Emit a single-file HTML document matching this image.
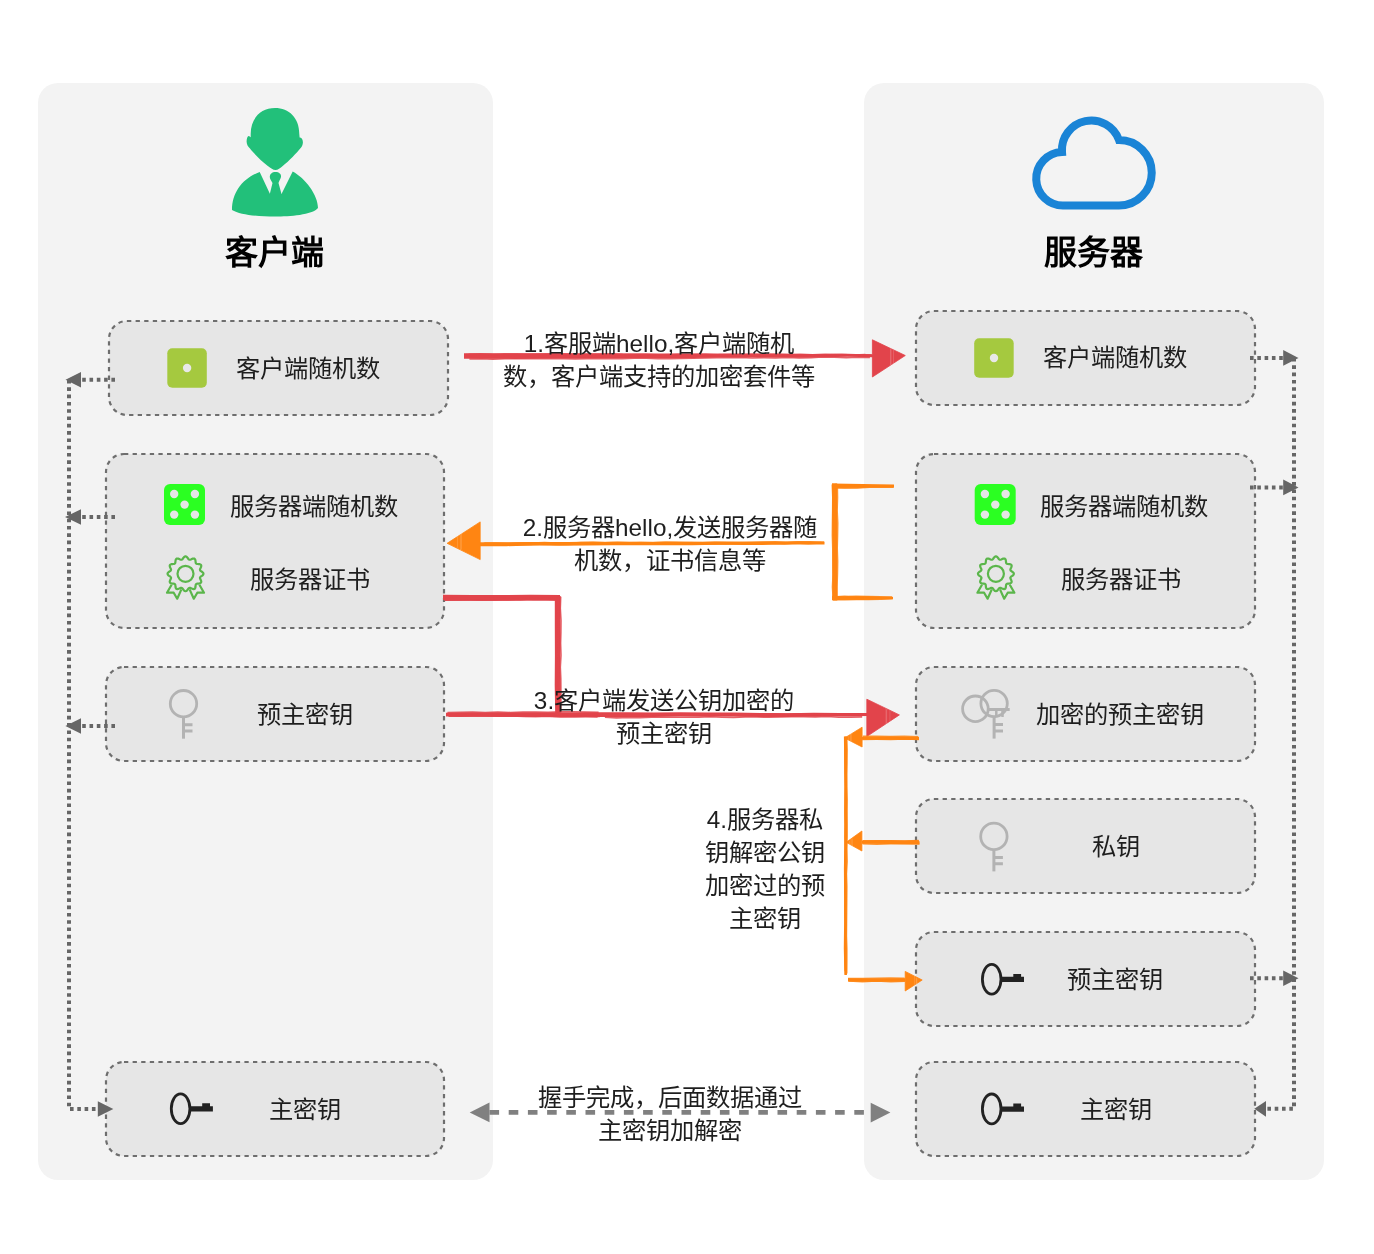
<!DOCTYPE html>
<html lang="zh-CN"><head><meta charset="utf-8"><title>TLS</title>
<style>
html,body{margin:0;padding:0;background:#fff;}
body{width:1374px;height:1254px;position:relative;overflow:hidden;font-family:"Liberation Sans",sans-serif;color:#1e1e1e;}
svg.main{position:absolute;left:0;top:0;}
.t{position:absolute;will-change:transform;white-space:nowrap;font-size:24.3px;line-height:33px;transform:translateX(-50%);text-align:center;}
.h{position:absolute;will-change:transform;white-space:nowrap;font-size:33px;line-height:40px;font-weight:bold;transform:translateX(-50%);color:#000;}
</style></head><body>
<svg class="main" width="1374" height="1254" viewBox="0 0 1374 1254">


<!-- panels -->
<rect x="38" y="83" width="455" height="1097" rx="20" fill="#f3f3f3"/>
<rect x="864" y="83" width="460" height="1097" rx="20" fill="#f3f3f3"/>

<!-- person -->
<g fill="#22c07a">
 <path d="M250.7 134 C250.7 118 261 108.1 275 108.1 C289 108.1 299.3 118 299.3 134 L299.6 137.5 C301.5 137 303 139.5 302.9 142.5 C302.8 145 301.8 147 299.8 149 C297 152.5 289 161 283 165.8 C280 168.5 278 170 275.5 170 C273 170 271 168.5 267.5 165.8 C261.5 161 253 152.5 250 148.5 C248 146.5 246.6 144.5 246.6 141.5 C246.6 138.5 247.5 136 248.6 135.9 C249.4 135.9 250.2 136.8 250.7 137.3 Z"/>
 <path d="M259.7 172 L270 194 L281.5 194 L292.7 171.5 C305 178 318 195 318 208 C312 215 290 216.5 275 216.5 C258 216.5 240 215 232 210 C232 192 243 178 259.7 172 Z"/>
 <path d="M275.5 172 C279 172 281.5 174 281 177 C280.5 179 279 181 278.5 183 L281.5 194 L269.8 194 L272.5 183 C271.5 181 269.8 179 269.8 177 C269.8 174 272 172 275.5 172 Z"/>
</g>
<!-- cloud -->
<path transform="translate(1,0)" d="M1063 205.5 A26.5 26.5 0 0 1 1061 152 A29.4 29.4 0 0 1 1118 140 A32.5 32.5 0 1 1 1118 205.5 Z" fill="none" stroke="#1a84d6" stroke-width="8"/>

<!-- boxes -->
<g fill="#e6e6e6" stroke="#6e6e6e" stroke-width="2.2" stroke-dasharray="4.3 4.3">
 <rect x="109" y="321" width="339" height="94" rx="18"/>
 <rect x="106" y="454" width="338" height="174" rx="18"/>
 <rect x="106" y="667" width="338" height="94" rx="18"/>
 <rect x="106" y="1062" width="338" height="94" rx="18"/>
 <rect x="916" y="311" width="339" height="94" rx="18"/>
 <rect x="916" y="454" width="339" height="174" rx="18"/>
 <rect x="916" y="667" width="339" height="94" rx="18"/>
 <rect x="916" y="799" width="339" height="94" rx="18"/>
 <rect x="916" y="932" width="339" height="94" rx="18"/>
 <rect x="916" y="1062" width="339" height="94" rx="18"/>
</g>

<!-- icons -->
<g transform="translate(167.3 348.2)"><rect x="0" y="0" width="39.5" height="39.5" rx="5" fill="#a5c93f"/><circle cx="19.8" cy="19.8" r="4.2" fill="#e8e8e8"/></g>
<g transform="translate(974.2 338.2)"><rect x="0" y="0" width="39.5" height="39.5" rx="5" fill="#a5c93f"/><circle cx="19.8" cy="19.8" r="4.2" fill="#e8e8e8"/></g>
<g transform="translate(164 484)"><rect x="0" y="0" width="41" height="41" rx="6" fill="#2bff22"/><g fill="#e6e6e6"><circle cx="10.2" cy="10" r="4.2"/><circle cx="30.9" cy="10" r="4.2"/><circle cx="20.6" cy="20.6" r="4.2"/><circle cx="10.2" cy="30.6" r="4.2"/><circle cx="30.9" cy="30.6" r="4.2"/></g></g>
<g transform="translate(974.7 484)"><rect x="0" y="0" width="41" height="41" rx="6" fill="#2bff22"/><g fill="#e6e6e6"><circle cx="10.2" cy="10" r="4.2"/><circle cx="30.9" cy="10" r="4.2"/><circle cx="20.6" cy="20.6" r="4.2"/><circle cx="10.2" cy="30.6" r="4.2"/><circle cx="30.9" cy="30.6" r="4.2"/></g></g>
<g transform="translate(185.5 573.8)" fill="none" stroke="#5bb64b" stroke-width="2.2" stroke-linejoin="round"><path d="M0.00 -17.45 L0.78 -17.24 L1.50 -16.66 L2.15 -15.86 L2.73 -15.04 L3.29 -14.39 L3.88 -14.05 L4.57 -14.06 L5.38 -14.35 L6.31 -14.78 L7.28 -15.16 L8.21 -15.31 L8.99 -15.11 L9.55 -14.55 L9.88 -13.70 L10.03 -12.69 L10.11 -11.70 L10.26 -10.87 L10.60 -10.29 L11.20 -9.96 L12.05 -9.82 L13.07 -9.74 L14.11 -9.59 L14.99 -9.27 L15.57 -8.73 L15.77 -7.97 L15.61 -7.07 L15.23 -6.12 L14.78 -5.22 L14.48 -4.43 L14.48 -3.77 L14.83 -3.19 L15.49 -2.65 L16.34 -2.09 L17.16 -1.46 L17.76 -0.75 L17.97 -0.00 L17.76 0.75 L17.16 1.46 L16.34 2.09 L15.49 2.65 L14.83 3.19 L14.48 3.77 L14.48 4.43 L14.78 5.22 L15.23 6.12 L15.61 7.07 L15.77 7.97 L15.57 8.72 L14.99 9.27 L14.11 9.59 L13.07 9.74 L12.05 9.82 L11.20 9.96 L10.60 10.29 L10.26 10.87 L10.11 11.70 L10.03 12.69 L9.88 13.70 L9.55 14.55 L8.99 15.11 L8.21 15.31 L7.28 15.16 L6.31 14.78 L5.38 14.35 L4.57 14.06 L3.88 14.05 L3.29 14.39 L2.73 15.04 L2.15 15.86 L1.50 16.66 L0.78 17.24 L0.00 17.45 L-0.78 17.24 L-1.50 16.66 L-2.15 15.86 L-2.73 15.04 L-3.29 14.39 L-3.88 14.05 L-4.57 14.06 L-5.38 14.35 L-6.31 14.78 L-7.28 15.16 L-8.21 15.31 L-8.99 15.11 L-9.55 14.55 L-9.88 13.70 L-10.03 12.69 L-10.11 11.70 L-10.26 10.87 L-10.60 10.29 L-11.20 9.96 L-12.05 9.82 L-13.07 9.74 L-14.11 9.59 L-14.99 9.27 L-15.57 8.73 L-15.77 7.97 L-15.61 7.07 L-15.23 6.12 L-14.78 5.22 L-14.48 4.43 L-14.48 3.77 L-14.83 3.19 L-15.49 2.65 L-16.34 2.09 L-17.16 1.46 L-17.76 0.75 L-17.97 0.00 L-17.76 -0.75 L-17.16 -1.46 L-16.34 -2.09 L-15.49 -2.65 L-14.83 -3.19 L-14.48 -3.77 L-14.48 -4.43 L-14.78 -5.22 L-15.23 -6.12 L-15.61 -7.07 L-15.77 -7.97 L-15.57 -8.72 L-14.99 -9.27 L-14.11 -9.59 L-13.07 -9.74 L-12.05 -9.82 L-11.20 -9.96 L-10.60 -10.29 L-10.26 -10.87 L-10.11 -11.70 L-10.03 -12.69 L-9.88 -13.70 L-9.55 -14.55 L-8.99 -15.11 L-8.21 -15.31 L-7.28 -15.16 L-6.31 -14.78 L-5.38 -14.35 L-4.57 -14.06 L-3.88 -14.05 L-3.29 -14.39 L-2.73 -15.04 L-2.15 -15.86 L-1.50 -16.66 L-0.78 -17.24Z"/><circle cx="0" cy="0" r="8"/><path d="M-13.9 10.9 L-18.5 18.9 L-11.8 18.9 L-8.3 24.9 L-4.1 15.6 M13.9 10.9 L18.5 18.9 L11.8 18.9 L8.3 24.9 L4.1 15.6"/></g>
<g transform="translate(995.9 573.8)" fill="none" stroke="#5bb64b" stroke-width="2.2" stroke-linejoin="round"><path d="M0.00 -17.45 L0.78 -17.24 L1.50 -16.66 L2.15 -15.86 L2.73 -15.04 L3.29 -14.39 L3.88 -14.05 L4.57 -14.06 L5.38 -14.35 L6.31 -14.78 L7.28 -15.16 L8.21 -15.31 L8.99 -15.11 L9.55 -14.55 L9.88 -13.70 L10.03 -12.69 L10.11 -11.70 L10.26 -10.87 L10.60 -10.29 L11.20 -9.96 L12.05 -9.82 L13.07 -9.74 L14.11 -9.59 L14.99 -9.27 L15.57 -8.73 L15.77 -7.97 L15.61 -7.07 L15.23 -6.12 L14.78 -5.22 L14.48 -4.43 L14.48 -3.77 L14.83 -3.19 L15.49 -2.65 L16.34 -2.09 L17.16 -1.46 L17.76 -0.75 L17.97 -0.00 L17.76 0.75 L17.16 1.46 L16.34 2.09 L15.49 2.65 L14.83 3.19 L14.48 3.77 L14.48 4.43 L14.78 5.22 L15.23 6.12 L15.61 7.07 L15.77 7.97 L15.57 8.72 L14.99 9.27 L14.11 9.59 L13.07 9.74 L12.05 9.82 L11.20 9.96 L10.60 10.29 L10.26 10.87 L10.11 11.70 L10.03 12.69 L9.88 13.70 L9.55 14.55 L8.99 15.11 L8.21 15.31 L7.28 15.16 L6.31 14.78 L5.38 14.35 L4.57 14.06 L3.88 14.05 L3.29 14.39 L2.73 15.04 L2.15 15.86 L1.50 16.66 L0.78 17.24 L0.00 17.45 L-0.78 17.24 L-1.50 16.66 L-2.15 15.86 L-2.73 15.04 L-3.29 14.39 L-3.88 14.05 L-4.57 14.06 L-5.38 14.35 L-6.31 14.78 L-7.28 15.16 L-8.21 15.31 L-8.99 15.11 L-9.55 14.55 L-9.88 13.70 L-10.03 12.69 L-10.11 11.70 L-10.26 10.87 L-10.60 10.29 L-11.20 9.96 L-12.05 9.82 L-13.07 9.74 L-14.11 9.59 L-14.99 9.27 L-15.57 8.73 L-15.77 7.97 L-15.61 7.07 L-15.23 6.12 L-14.78 5.22 L-14.48 4.43 L-14.48 3.77 L-14.83 3.19 L-15.49 2.65 L-16.34 2.09 L-17.16 1.46 L-17.76 0.75 L-17.97 0.00 L-17.76 -0.75 L-17.16 -1.46 L-16.34 -2.09 L-15.49 -2.65 L-14.83 -3.19 L-14.48 -3.77 L-14.48 -4.43 L-14.78 -5.22 L-15.23 -6.12 L-15.61 -7.07 L-15.77 -7.97 L-15.57 -8.72 L-14.99 -9.27 L-14.11 -9.59 L-13.07 -9.74 L-12.05 -9.82 L-11.20 -9.96 L-10.60 -10.29 L-10.26 -10.87 L-10.11 -11.70 L-10.03 -12.69 L-9.88 -13.70 L-9.55 -14.55 L-8.99 -15.11 L-8.21 -15.31 L-7.28 -15.16 L-6.31 -14.78 L-5.38 -14.35 L-4.57 -14.06 L-3.88 -14.05 L-3.29 -14.39 L-2.73 -15.04 L-2.15 -15.86 L-1.50 -16.66 L-0.78 -17.24Z"/><circle cx="0" cy="0" r="8"/><path d="M-13.9 10.9 L-18.5 18.9 L-11.8 18.9 L-8.3 24.9 L-4.1 15.6 M13.9 10.9 L18.5 18.9 L11.8 18.9 L8.3 24.9 L4.1 15.6"/></g>
<g transform="translate(183.5 703.7)" fill="none" stroke="#b3b3b3"><circle cx="0" cy="0" r="13.2" stroke-width="2.8"/><path d="M0 13.5 V35" stroke-width="3"/><path d="M0 21 H9 M0 27.3 H9" stroke-width="3"/></g>
<g transform="translate(993.9 836.4)" fill="none" stroke="#b3b3b3"><circle cx="0" cy="0" r="13.2" stroke-width="2.8"/><path d="M0 13.5 V35" stroke-width="3"/><path d="M0 21 H9 M0 27.3 H9" stroke-width="3"/></g>
<!-- double key -->
<g fill="none" stroke="#b3b3b3">
 <circle cx="975.4" cy="708.8" r="12.8" stroke-width="2.8"/>
 <circle cx="994.1" cy="703.5" r="13.2" stroke-width="2.8"/>
 <path d="M989 709.5 H1009.7" stroke-width="3"/>
 <path d="M996.3 709 V717 M1002.5 709 V717" stroke-width="2.5"/>
 <path d="M994.1 716 V738.6" stroke-width="3"/>
 <path d="M994.1 724.6 H1003 M994.1 731 H1003" stroke-width="3"/>
</g>
<g transform="translate(991.7 979.3)"><ellipse cx="0" cy="0" rx="9.3" ry="14.9" fill="none" stroke="#222" stroke-width="2.8"/><path d="M10 -2.5 H32.3 V2.8 H10 Z M21.6 -5.4 H29.4 V-2 H21.6 Z" fill="#222"/></g>
<g transform="translate(991.7 1108.9)"><ellipse cx="0" cy="0" rx="9.3" ry="14.9" fill="none" stroke="#222" stroke-width="2.8"/><path d="M10 -2.5 H32.3 V2.8 H10 Z M21.6 -5.4 H29.4 V-2 H21.6 Z" fill="#222"/></g>
<g transform="translate(180.6 1108.7)"><ellipse cx="0" cy="0" rx="9.3" ry="14.9" fill="none" stroke="#222" stroke-width="2.8"/><path d="M10 -2.5 H32.3 V2.8 H10 Z M21.6 -5.4 H29.4 V-2 H21.6 Z" fill="#222"/></g>

<!-- dotted connectors -->
<g stroke="#666" stroke-width="4" stroke-dasharray="3.6 3.7" fill="none">
 <path d="M69 380 V1109 H98"/>
 <path d="M115 379.8 H81"/>
 <path d="M115 517 H81"/>
 <path d="M115 726 H81"/>
 <path d="M1294 358 V1108.8 H1266"/>
 <path d="M1250 357.9 H1283"/>
 <path d="M1250 487.4 H1283"/>
 <path d="M1250 978.3 H1283"/>
</g>
<g fill="#666">
 <path d="M65.5 379.8 L81 372 L81 387.6 Z"/>
 <path d="M65 517 L81 509.2 L81 524.8 Z"/>
 <path d="M65.4 726 L81 718.2 L81 733.8 Z"/>
 <path d="M113.3 1109 L97.8 1101.2 L97.8 1116.8 Z"/>
 <path d="M1298.5 357.9 L1283.2 350.1 L1283.2 365.7 Z"/>
 <path d="M1298.5 487.4 L1283.2 479.6 L1283.2 495.2 Z"/>
 <path d="M1298.5 978.3 L1283.2 970.5 L1283.2 986.1 Z"/>
 <path d="M1254.3 1108.8 L1266 1100.9 L1266 1116.7 Z"/>
</g>

<!-- gray dashed bidirectional -->
<path d="M489.5 1112.3 H871" stroke="#808080" stroke-width="4.8" stroke-dasharray="9.6 9.6" fill="none"/>
<g fill="#808080">
 <path d="M469.7 1112.4 L489.5 1102.6 L489.5 1122.2 Z"/>
 <path d="M890.4 1112.5 L870.7 1102.7 L870.7 1122.4 Z"/>
</g>

<g>
<path fill="#e2444b" d="M464.0 358.8 L489.6 358.7 L515.1 358.9 L540.7 358.4 L566.3 358.3 L591.8 358.3 L617.4 357.9 L642.9 358.0 L668.5 357.9 L694.1 357.9 L719.6 357.3 L745.2 357.4 L770.8 357.1 L796.3 357.5 L821.9 357.3 L847.4 356.7 L873.0 357.2 L873.0 354.4 L847.4 353.7 L821.9 354.1 L796.3 354.1 L770.7 353.6 L745.2 353.7 L719.6 353.5 L694.1 353.9 L668.5 353.7 L642.9 353.6 L617.4 353.3 L591.8 353.5 L566.2 353.4 L540.7 353.3 L515.1 353.6 L489.6 353.3 L464.0 353.2 Z"/>
<path fill="none" stroke="#e2444b" stroke-width="1.6" stroke-opacity="0.85" d="M469.4 359.0 L481.1 358.8 L492.9 359.1 L504.7 358.7 L516.5 358.7 L528.3 358.7 L540.0 358.5 L551.8 358.8 L563.6 358.7 L575.4 358.9 L587.1 358.6 L598.9 358.7 L610.7 358.5 L622.5 358.6 L634.3 358.3 L646.0 358.1 L657.8 358.6 L669.6 358.6 L681.4 358.4 L693.2 358.2 L704.9 357.9 L716.7 357.7 L728.5 357.7 L740.3 357.5 L752.1 358.0 L763.8 357.6 L775.6 357.9 L787.4 357.5 L799.2 357.9 L811.0 357.7 L822.7 357.0 L834.5 357.1 L846.3 357.6 L858.1 357.2 L869.9 357.5"/>
<path fill="none" stroke="#e2444b" stroke-width="1.6" stroke-opacity="0.85" d="M464.6 355.5 L476.5 355.1 L488.4 354.9 L500.4 355.1 L512.3 355.6 L524.2 355.5 L536.1 355.0 L548.1 355.1 L560.0 354.9 L571.9 354.9 L583.8 355.5 L595.7 355.0 L607.7 355.3 L619.6 355.2 L631.5 355.0 L643.4 355.4 L655.4 354.9 L667.3 355.3 L679.2 354.9 L691.1 355.1 L703.1 355.0 L715.0 355.0 L726.9 355.6 L738.8 355.4 L750.7 355.0 L762.7 355.5 L774.6 354.9 L786.5 355.1 L798.4 355.5 L810.4 355.3 L822.3 354.8 L834.2 355.5 L846.1 354.9 L858.0 355.0 L870.0 355.4"/>
<path fill="none" stroke="#e2444b" stroke-width="1.6" stroke-opacity="0.85" d="M466.4 354.5 L478.2 354.9 L489.9 354.6 L501.6 354.9 L513.4 354.7 L525.1 354.8 L536.8 355.2 L548.6 354.8 L560.3 354.9 L572.0 355.1 L583.8 354.6 L595.5 354.6 L607.2 355.2 L619.0 355.1 L630.7 354.6 L642.5 354.6 L654.2 355.0 L665.9 355.2 L677.7 354.6 L689.4 355.2 L701.1 355.2 L712.9 354.9 L724.6 354.8 L736.3 354.6 L748.1 354.5 L759.8 355.2 L771.5 354.7 L783.3 355.0 L795.0 354.7 L806.7 355.1 L818.5 355.0 L830.2 354.7 L841.9 354.6 L853.7 355.1 L865.4 354.6"/>
<path fill="none" stroke="#e2444b" stroke-width="1.6" stroke-opacity="0.85" d="M468.6 354.2 L480.4 353.9 L492.3 354.5 L504.2 353.9 L516.0 353.8 L527.9 354.0 L539.7 354.1 L551.6 353.8 L563.4 353.9 L575.3 354.1 L587.2 354.3 L599.0 354.0 L610.9 354.2 L622.7 354.6 L634.6 354.7 L646.5 354.4 L658.3 354.5 L670.2 354.4 L682.0 354.1 L693.9 354.0 L705.8 354.0 L717.6 354.7 L729.5 354.6 L741.3 354.8 L753.2 354.0 L765.1 354.5 L776.9 354.4 L788.8 354.6 L800.6 354.3 L812.5 354.9 L824.4 354.2 L836.2 354.5 L848.1 354.7 L859.9 354.9 L871.8 354.7"/>
<path fill="#e2444b" d="M443.0 600.0 L472.2 600.1 L501.5 600.1 L530.8 599.6 L560.0 599.8 L560.0 595.0 L530.8 594.7 L501.5 595.1 L472.2 595.0 L443.0 594.8 Z"/>
<path fill="none" stroke="#e2444b" stroke-width="1.6" stroke-opacity="0.85" d="M445.0 600.1 L457.7 600.2 L470.3 599.9 L482.9 599.9 L495.5 599.7 L508.1 599.9 L520.8 599.9 L533.4 599.4 L546.0 599.8 L558.6 600.1"/>
<path fill="none" stroke="#e2444b" stroke-width="1.6" stroke-opacity="0.85" d="M444.7 600.0 L457.4 599.8 L470.0 599.7 L482.7 600.0 L495.3 599.4 L508.0 599.9 L520.6 599.3 L533.3 599.7 L545.9 599.6 L558.6 599.4"/>
<path fill="none" stroke="#e2444b" stroke-width="1.6" stroke-opacity="0.85" d="M444.2 598.9 L456.9 598.4 L469.7 598.2 L482.5 598.4 L495.2 598.7 L508.0 598.3 L520.8 598.3 L533.6 598.8 L546.3 598.6 L559.1 598.4"/>
<path fill="none" stroke="#e2444b" stroke-width="1.6" stroke-opacity="0.85" d="M443.8 599.6 L456.6 599.8 L469.4 600.0 L482.2 600.1 L495.1 600.1 L507.9 599.6 L520.7 599.8 L533.6 599.5 L546.4 599.4 L559.2 599.6"/>
<path fill="#e2444b" d="M554.8 595.0 L554.8 625.0 L554.9 655.0 L554.7 685.0 L555.2 715.0 L560.4 715.0 L559.9 685.0 L560.1 655.0 L560.0 625.0 L560.0 595.0 Z"/>
<path fill="none" stroke="#e2444b" stroke-width="1.6" stroke-opacity="0.85" d="M560.0 596.1 L559.8 607.8 L559.7 619.5 L559.8 631.2 L559.9 643.0 L559.5 654.7 L559.4 666.4 L559.8 678.1 L560.1 689.8 L560.1 701.5 L559.5 713.3"/>
<path fill="none" stroke="#e2444b" stroke-width="1.6" stroke-opacity="0.85" d="M560.7 596.7 L560.3 608.4 L561.0 620.2 L560.9 631.9 L560.6 643.6 L561.0 655.3 L560.3 667.1 L560.8 678.8 L560.9 690.5 L560.9 702.2 L560.5 714.0"/>
<path fill="none" stroke="#e2444b" stroke-width="1.6" stroke-opacity="0.85" d="M557.7 596.5 L557.6 608.3 L557.8 620.0 L558.2 631.8 L558.0 643.6 L558.2 655.3 L558.3 667.1 L558.0 678.9 L557.8 690.6 L558.2 702.4 L558.1 714.2"/>
<path fill="none" stroke="#e2444b" stroke-width="1.6" stroke-opacity="0.85" d="M558.5 596.7 L558.4 608.4 L558.7 620.1 L558.4 631.8 L558.3 643.5 L558.9 655.3 L558.3 667.0 L558.4 678.7 L558.9 690.4 L558.6 702.1 L558.5 713.8"/>
<path fill="#e2444b" d="M446.0 716.4 L471.7 716.2 L497.3 716.4 L523.0 716.8 L548.7 716.9 L574.3 717.2 L600.0 717.0 L600.0 712.2 L574.3 712.6 L548.7 712.5 L523.0 712.6 L497.3 712.4 L471.7 712.4 L446.0 712.8 Z"/>
<path fill="none" stroke="#e2444b" stroke-width="1.6" stroke-opacity="0.85" d="M446.6 715.2 L459.3 715.1 L472.0 715.2 L484.8 714.9 L497.5 715.5 L510.2 715.6 L522.9 715.6 L535.6 715.3 L548.3 715.6 L561.0 715.2 L573.7 715.7 L586.4 715.7 L599.1 715.4"/>
<path fill="none" stroke="#e2444b" stroke-width="1.6" stroke-opacity="0.85" d="M447.4 712.6 L460.0 712.4 L472.6 712.0 L485.2 712.6 L497.8 712.0 L510.4 712.5 L523.0 712.0 L535.6 712.1 L548.2 712.4 L560.8 711.9 L573.4 711.9 L586.0 712.1 L598.6 712.3"/>
<path fill="none" stroke="#e2444b" stroke-width="1.6" stroke-opacity="0.85" d="M448.1 715.8 L460.8 716.3 L473.4 715.6 L486.0 715.8 L498.7 716.1 L511.3 716.0 L524.0 716.4 L536.6 716.4 L549.3 716.4 L561.9 716.7 L574.5 716.6 L587.2 716.4 L599.8 716.5"/>
<path fill="none" stroke="#e2444b" stroke-width="1.6" stroke-opacity="0.85" d="M448.8 716.1 L461.2 716.3 L473.6 716.0 L486.0 716.1 L498.4 715.9 L510.8 716.2 L523.2 716.3 L535.6 716.4 L548.0 716.0 L560.4 716.8 L572.8 716.5 L585.2 716.5 L597.6 716.9"/>
<path fill="#e2444b" d="M600.0 717.0 L626.7 716.9 L653.4 717.0 L680.1 716.5 L706.8 716.8 L733.5 716.6 L760.2 717.0 L786.9 716.9 L813.6 716.4 L840.3 716.4 L867.0 716.1 L867.0 712.9 L840.3 713.1 L813.6 712.8 L786.9 713.2 L760.2 713.1 L733.5 712.6 L706.8 712.6 L680.1 712.2 L653.4 712.5 L626.7 712.3 L600.0 712.2 Z"/>
<path fill="none" stroke="#e2444b" stroke-width="1.6" stroke-opacity="0.85" d="M604.4 714.2 L616.3 714.1 L628.2 714.0 L640.1 714.3 L652.0 714.6 L663.9 714.0 L675.8 714.5 L687.8 713.9 L699.7 714.1 L711.6 714.1 L723.5 714.5 L735.4 714.2 L747.3 714.3 L759.2 714.5 L771.2 714.1 L783.1 714.6 L795.0 714.1 L806.9 714.5 L818.8 714.3 L830.7 714.2 L842.6 714.5 L854.6 714.5 L866.5 714.4"/>
<path fill="none" stroke="#e2444b" stroke-width="1.6" stroke-opacity="0.85" d="M602.8 713.8 L614.6 714.2 L626.4 714.2 L638.2 714.2 L650.0 714.4 L661.8 714.3 L673.7 714.5 L685.5 714.0 L697.3 714.4 L709.1 714.5 L720.9 714.6 L732.7 714.1 L744.5 714.1 L756.3 714.6 L768.1 714.1 L779.9 714.7 L791.7 714.7 L803.5 714.1 L815.3 714.2 L827.1 714.6 L838.9 714.2 L850.7 714.1 L862.5 714.7"/>
<path fill="none" stroke="#e2444b" stroke-width="1.6" stroke-opacity="0.85" d="M604.2 714.1 L616.0 714.3 L627.7 713.8 L639.4 713.9 L651.1 714.3 L662.9 714.5 L674.6 714.6 L686.3 713.9 L698.1 714.3 L709.8 714.5 L721.5 714.3 L733.3 714.5 L745.0 714.1 L756.7 714.0 L768.5 714.0 L780.2 714.0 L791.9 714.4 L803.7 714.4 L815.4 714.5 L827.1 714.2 L838.9 714.2 L850.6 714.2 L862.3 714.8"/>
<path fill="none" stroke="#e2444b" stroke-width="1.6" stroke-opacity="0.85" d="M604.9 717.2 L616.6 717.9 L628.3 717.4 L640.0 717.6 L651.7 717.3 L663.4 717.3 L675.1 717.3 L686.8 717.2 L698.5 717.3 L710.2 716.8 L721.9 717.3 L733.6 717.4 L745.2 716.9 L756.9 717.0 L768.6 717.2 L780.3 716.9 L792.0 716.7 L803.7 716.7 L815.4 716.9 L827.1 716.5 L838.8 717.2 L850.5 717.1 L862.2 716.9"/>
<path fill="#e2444b" stroke="#e2444b" stroke-width="0.8" stroke-linejoin="round" d="M905.3 355.5 L872.4 339.8 L872.4 377.0 Z"/>
<path stroke="#ffffff" stroke-opacity="0.18" stroke-width="0.8" fill="none" d="M890.5 348.7 L890.5 365.0"/>
<path stroke="#ffffff" stroke-opacity="0.18" stroke-width="0.8" fill="none" d="M893.5 349.9 L893.5 364.2"/>
<path stroke="#ffffff" stroke-opacity="0.18" stroke-width="0.8" fill="none" d="M891.1 348.2 L891.1 365.6"/>
<path fill="#e2444b" stroke="#e2444b" stroke-width="0.8" stroke-linejoin="round" d="M899.4 714.9 L866.8 699.2 L866.8 736.5 Z"/>
<path stroke="#ffffff" stroke-opacity="0.18" stroke-width="0.8" fill="none" d="M886.0 709.0 L886.0 724.4"/>
<path stroke="#ffffff" stroke-opacity="0.18" stroke-width="0.8" fill="none" d="M889.9 711.1 L889.9 722.0"/>
<path stroke="#ffffff" stroke-opacity="0.18" stroke-width="0.8" fill="none" d="M886.6 709.3 L886.6 723.9"/>
<path fill="#ff8512" d="M480.0 546.2 L506.5 546.2 L533.0 545.6 L559.5 545.7 L586.0 545.6 L612.5 545.2 L639.0 545.3 L665.5 545.3 L692.0 545.2 L718.5 544.8 L745.0 545.1 L771.5 544.8 L798.0 544.4 L824.5 544.5 L824.5 541.7 L798.0 541.5 L771.5 541.8 L745.0 542.1 L718.5 541.7 L692.0 542.0 L665.5 542.1 L639.0 541.9 L612.5 541.7 L586.0 542.1 L559.5 542.1 L533.0 542.0 L506.5 542.5 L480.0 542.3 Z"/>
<path fill="none" stroke="#ff8512" stroke-width="1.6" stroke-opacity="0.85" d="M483.7 545.0 L495.7 544.7 L507.7 544.7 L519.7 544.7 L531.8 544.8 L543.8 544.0 L555.8 544.4 L567.8 544.5 L579.9 544.0 L591.9 544.1 L603.9 543.8 L615.9 543.8 L627.9 543.9 L640.0 543.7 L652.0 543.7 L664.0 544.2 L676.0 543.9 L688.1 543.8 L700.1 544.1 L712.1 543.8 L724.1 544.0 L736.1 543.7 L748.2 543.8 L760.2 543.2 L772.2 543.5 L784.2 543.6 L796.2 543.0 L808.3 543.7 L820.3 543.0"/>
<path fill="none" stroke="#ff8512" stroke-width="1.6" stroke-opacity="0.85" d="M481.2 544.2 L493.3 543.8 L505.4 544.4 L517.6 544.0 L529.7 544.0 L541.9 544.0 L554.0 543.8 L566.1 543.7 L578.3 543.9 L590.4 543.8 L602.5 543.5 L614.7 543.8 L626.8 543.5 L639.0 543.2 L651.1 543.3 L663.2 543.1 L675.4 543.2 L687.5 543.6 L699.6 543.3 L711.8 543.6 L723.9 543.5 L736.1 542.9 L748.2 543.6 L760.3 543.5 L772.5 542.8 L784.6 543.4 L796.7 542.9 L808.9 542.9 L821.0 543.3"/>
<path fill="none" stroke="#ff8512" stroke-width="1.6" stroke-opacity="0.85" d="M483.6 543.2 L495.8 543.0 L507.9 543.4 L520.1 543.2 L532.2 543.0 L544.4 542.6 L556.6 543.0 L568.7 542.8 L580.9 542.5 L593.0 542.4 L605.2 542.7 L617.4 542.4 L629.5 542.6 L641.7 542.8 L653.8 542.5 L666.0 542.4 L678.2 542.6 L690.3 542.4 L702.5 542.7 L714.6 542.4 L726.8 542.8 L739.0 542.7 L751.1 542.5 L763.3 542.1 L775.4 541.9 L787.6 542.5 L799.7 542.4 L811.9 542.2 L824.1 542.0"/>
<path fill="none" stroke="#ff8512" stroke-width="1.6" stroke-opacity="0.85" d="M484.7 543.3 L496.7 543.3 L508.8 543.3 L520.8 542.8 L532.8 542.8 L544.9 543.4 L556.9 543.3 L568.9 543.2 L580.9 542.5 L593.0 542.5 L605.0 542.7 L617.0 542.7 L629.1 542.9 L641.1 542.4 L653.1 542.7 L665.1 542.3 L677.2 542.3 L689.2 542.7 L701.2 542.6 L713.2 542.6 L725.3 542.4 L737.3 542.4 L749.3 542.2 L761.4 542.3 L773.4 542.5 L785.4 542.6 L797.4 541.9 L809.5 541.9 L821.5 542.5"/>
<path fill="#ff8512" d="M832.0 483.5 L832.0 512.8 L832.4 542.0 L832.3 571.2 L832.5 600.5 L837.3 600.5 L837.2 571.2 L837.4 542.0 L837.1 512.8 L837.2 483.5 Z"/>
<path fill="none" stroke="#ff8512" stroke-width="1.6" stroke-opacity="0.85" d="M832.3 484.4 L832.8 497.2 L832.7 510.0 L832.5 522.8 L832.4 535.6 L832.8 548.4 L832.9 561.2 L833.1 574.1 L832.5 586.9 L833.2 599.7"/>
<path fill="none" stroke="#ff8512" stroke-width="1.6" stroke-opacity="0.85" d="M837.3 484.8 L837.5 497.5 L837.1 510.3 L837.7 523.0 L837.5 535.7 L837.2 548.4 L837.6 561.1 L837.4 573.9 L837.0 586.6 L837.0 599.3"/>
<path fill="none" stroke="#ff8512" stroke-width="1.6" stroke-opacity="0.85" d="M835.9 483.8 L836.2 496.6 L836.4 509.4 L835.9 522.2 L836.0 535.0 L835.7 547.8 L835.7 560.6 L835.7 573.4 L836.1 586.2 L835.8 599.0"/>
<path fill="none" stroke="#ff8512" stroke-width="1.6" stroke-opacity="0.85" d="M835.6 484.2 L835.6 497.0 L836.1 509.8 L836.0 522.5 L836.0 535.3 L836.0 548.0 L836.0 560.8 L836.0 573.6 L836.1 586.3 L835.8 599.1"/>
<path fill="#ff8512" d="M832.0 488.0 L863.0 487.3 L894.0 487.0 L894.0 484.6 L863.0 483.9 L832.0 483.6 Z"/>
<path fill="none" stroke="#ff8512" stroke-width="1.6" stroke-opacity="0.85" d="M832.2 486.2 L844.5 485.7 L856.8 485.5 L869.1 485.9 L881.4 485.9 L893.7 485.8"/>
<path fill="none" stroke="#ff8512" stroke-width="1.6" stroke-opacity="0.85" d="M832.8 487.8 L845.0 488.0 L857.2 487.9 L869.4 487.1 L881.6 486.9 L893.8 487.2"/>
<path fill="none" stroke="#ff8512" stroke-width="1.6" stroke-opacity="0.85" d="M832.1 487.5 L844.4 487.8 L856.7 487.5 L869.0 487.0 L881.3 486.8 L893.5 487.0"/>
<path fill="none" stroke="#ff8512" stroke-width="1.6" stroke-opacity="0.85" d="M832.9 485.6 L845.0 486.1 L857.1 485.8 L869.1 485.7 L881.2 485.7 L893.2 485.8"/>
<path fill="#ff8512" d="M832.0 599.9 L862.5 599.7 L893.0 598.9 L893.0 596.9 L862.5 596.9 L832.0 596.3 Z"/>
<path fill="none" stroke="#ff8512" stroke-width="1.6" stroke-opacity="0.85" d="M832.8 599.7 L844.8 599.6 L856.8 599.5 L868.8 599.4 L880.8 599.1 L892.8 598.8"/>
<path fill="none" stroke="#ff8512" stroke-width="1.6" stroke-opacity="0.85" d="M833.0 598.9 L844.8 598.6 L856.7 599.0 L868.6 599.1 L880.4 598.5 L892.3 598.3"/>
<path fill="none" stroke="#ff8512" stroke-width="1.6" stroke-opacity="0.85" d="M832.5 597.1 L844.4 596.4 L856.4 596.8 L868.3 596.7 L880.2 597.3 L892.1 597.5"/>
<path fill="none" stroke="#ff8512" stroke-width="1.6" stroke-opacity="0.85" d="M832.1 596.6 L844.1 597.0 L856.2 596.4 L868.2 596.6 L880.3 596.8 L892.3 597.0"/>
<path fill="#ff8512" d="M919.0 736.9 L890.5 736.6 L862.0 736.7 L862.0 739.5 L890.5 739.5 L919.0 739.9 Z"/>
<path fill="none" stroke="#ff8512" stroke-width="1.6" stroke-opacity="0.85" d="M918.8 739.5 L904.8 739.0 L890.8 739.4 L876.8 739.1 L862.8 738.9"/>
<path fill="none" stroke="#ff8512" stroke-width="1.6" stroke-opacity="0.85" d="M918.7 737.9 L904.6 738.4 L890.4 738.2 L876.3 737.9 L862.1 738.3"/>
<path fill="none" stroke="#ff8512" stroke-width="1.6" stroke-opacity="0.85" d="M918.9 739.0 L904.7 739.3 L890.5 739.2 L876.3 739.2 L862.1 739.4"/>
<path fill="none" stroke="#ff8512" stroke-width="1.6" stroke-opacity="0.85" d="M918.3 736.7 L904.4 736.4 L890.6 736.5 L876.7 736.2 L862.9 736.3"/>
<path fill="#ff8512" d="M843.9 736.5 L844.2 763.0 L844.3 789.5 L844.2 816.0 L844.3 842.5 L843.9 869.0 L844.1 895.5 L844.1 922.0 L843.8 948.5 L844.4 975.0 L846.9 975.0 L846.5 948.5 L846.7 922.0 L846.8 895.5 L846.6 869.0 L847.1 842.5 L847.1 816.0 L847.2 789.5 L847.2 763.0 L846.9 736.5 Z"/>
<path fill="none" stroke="#ff8512" stroke-width="1.6" stroke-opacity="0.85" d="M845.8 737.2 L845.1 749.7 L845.1 762.1 L845.1 774.6 L845.7 787.0 L845.6 799.5 L845.2 812.0 L845.7 824.4 L845.4 836.9 L845.4 849.3 L845.0 861.8 L845.3 874.2 L845.1 886.7 L845.5 899.2 L845.2 911.6 L845.5 924.1 L845.1 936.5 L845.7 949.0 L845.1 961.4 L845.6 973.9"/>
<path fill="none" stroke="#ff8512" stroke-width="1.6" stroke-opacity="0.85" d="M845.1 739.0 L845.5 751.2 L845.5 763.4 L845.7 775.6 L845.5 787.8 L845.4 800.1 L845.2 812.3 L845.5 824.5 L845.2 836.7 L845.7 848.9 L845.4 861.1 L845.4 873.3 L845.0 885.5 L845.1 897.7 L845.2 909.9 L845.7 922.1 L845.5 934.4 L845.2 946.6 L845.6 958.8 L845.3 971.0"/>
<path fill="none" stroke="#ff8512" stroke-width="1.6" stroke-opacity="0.85" d="M845.4 736.5 L845.9 749.1 L845.6 761.6 L845.8 774.2 L845.8 786.7 L845.6 799.3 L845.8 811.8 L845.8 824.4 L845.7 836.9 L845.5 849.5 L845.8 862.0 L845.9 874.6 L845.5 887.1 L845.8 899.7 L845.3 912.2 L845.6 924.8 L845.5 937.3 L845.8 949.9 L845.4 962.4 L846.0 975.0"/>
<path fill="none" stroke="#ff8512" stroke-width="1.6" stroke-opacity="0.85" d="M846.7 737.0 L847.1 749.4 L846.9 761.8 L846.6 774.3 L846.7 786.7 L847.1 799.2 L847.0 811.6 L847.1 824.1 L847.1 836.5 L846.8 849.0 L847.1 861.4 L846.4 873.9 L846.8 886.3 L846.7 898.8 L846.6 911.2 L846.5 923.7 L846.4 936.1 L846.8 948.6 L846.8 961.0 L846.7 973.5"/>
<path fill="#ff8512" d="M919.6 841.3 L890.8 841.1 L862.0 841.0 L862.0 843.8 L890.8 844.0 L919.6 844.4 Z"/>
<path fill="none" stroke="#ff8512" stroke-width="1.6" stroke-opacity="0.85" d="M918.7 840.6 L904.6 841.1 L890.5 840.9 L876.5 840.9 L862.4 840.7"/>
<path fill="none" stroke="#ff8512" stroke-width="1.6" stroke-opacity="0.85" d="M919.2 843.8 L905.0 843.7 L890.9 843.8 L876.7 844.2 L862.6 843.7"/>
<path fill="none" stroke="#ff8512" stroke-width="1.6" stroke-opacity="0.85" d="M919.0 841.0 L904.9 841.3 L890.9 840.9 L876.8 840.7 L862.7 841.1"/>
<path fill="none" stroke="#ff8512" stroke-width="1.6" stroke-opacity="0.85" d="M918.6 841.3 L904.7 841.6 L890.8 842.0 L876.9 842.1 L862.9 841.9"/>
<path fill="#ff8512" d="M848.0 981.3 L876.8 981.3 L905.5 981.0 L905.5 978.2 L876.8 978.4 L848.0 978.2 Z"/>
<path fill="none" stroke="#ff8512" stroke-width="1.6" stroke-opacity="0.85" d="M848.4 981.0 L862.5 981.7 L876.6 981.0 L890.8 981.6 L904.9 981.2"/>
<path fill="none" stroke="#ff8512" stroke-width="1.6" stroke-opacity="0.85" d="M848.6 980.3 L862.6 980.3 L876.6 980.2 L890.7 980.0 L904.7 979.6"/>
<path fill="none" stroke="#ff8512" stroke-width="1.6" stroke-opacity="0.85" d="M848.3 980.7 L862.6 981.0 L876.9 981.1 L891.1 980.6 L905.4 980.9"/>
<path fill="none" stroke="#ff8512" stroke-width="1.6" stroke-opacity="0.85" d="M848.0 978.5 L862.2 978.5 L876.3 978.3 L890.4 978.0 L904.6 978.4"/>
<path fill="#ff8512" stroke="#ff8512" stroke-width="0.8" stroke-linejoin="round" d="M447.1 543.3 L480.2 521.9 L480.2 559.6 Z"/>
<path stroke="#ffffff" stroke-opacity="0.18" stroke-width="0.8" fill="none" d="M460.6 534.3 L460.6 550.1"/>
<path stroke="#ffffff" stroke-opacity="0.18" stroke-width="0.8" fill="none" d="M461.4 533.1 L461.4 549.7"/>
<path stroke="#ffffff" stroke-opacity="0.18" stroke-width="0.8" fill="none" d="M457.5 535.9 L457.5 548.2"/>
<path fill="#ff8512" stroke="#ff8512" stroke-width="0.8" stroke-linejoin="round" d="M844.6 738.0 L862.1 727.2 L862.1 747.0 Z"/>
<path stroke="#ffffff" stroke-opacity="0.18" stroke-width="0.8" fill="none" d="M850.7 733.6 L850.7 741.2"/>
<path stroke="#ffffff" stroke-opacity="0.18" stroke-width="0.8" fill="none" d="M848.8 735.5 L848.8 739.8"/>
<path stroke="#ffffff" stroke-opacity="0.18" stroke-width="0.8" fill="none" d="M851.2 733.0 L851.2 741.7"/>
<path fill="#ff8512" stroke="#ff8512" stroke-width="0.8" stroke-linejoin="round" d="M846.2 842.3 L861.9 831.0 L861.9 851.0 Z"/>
<path stroke="#ffffff" stroke-opacity="0.18" stroke-width="0.8" fill="none" d="M849.4 841.0 L849.4 844.2"/>
<path stroke="#ffffff" stroke-opacity="0.18" stroke-width="0.8" fill="none" d="M851.1 838.6 L851.1 845.3"/>
<path stroke="#ffffff" stroke-opacity="0.18" stroke-width="0.8" fill="none" d="M852.3 838.4 L852.3 846.2"/>
<path fill="#ff8512" stroke="#ff8512" stroke-width="0.8" stroke-linejoin="round" d="M922.2 980.0 L905.2 971.4 L905.2 991.0 Z"/>
<path stroke="#ffffff" stroke-opacity="0.18" stroke-width="0.8" fill="none" d="M916.8 978.2 L916.8 984.2"/>
<path stroke="#ffffff" stroke-opacity="0.18" stroke-width="0.8" fill="none" d="M914.6 976.0 L914.6 984.8"/>
<path stroke="#ffffff" stroke-opacity="0.18" stroke-width="0.8" fill="none" d="M916.3 977.8 L916.3 983.9"/>
</g>

</svg>

<div class="h" style="left:274.1px;top:233.1px">客户端</div>
<div class="h" style="left:1092.6px;top:233.1px">服务器</div>
<div class="t" style="left:308.2px;top:352.2px">客户端随机数</div>
<div class="t" style="left:314.3px;top:490.2px">服务器端随机数</div>
<div class="t" style="left:310.1px;top:563.2px">服务器证书</div>
<div class="t" style="left:304.7px;top:698.2px">预主密钥</div>
<div class="t" style="left:304.9px;top:1093.2px">主密钥</div>
<div class="t" style="left:1115.1px;top:341.2px">客户端随机数</div>
<div class="t" style="left:1124.3px;top:490.2px">服务器端随机数</div>
<div class="t" style="left:1121.2px;top:563.2px">服务器证书</div>
<div class="t" style="left:1119.7px;top:698.2px">加密的预主密钥</div>
<div class="t" style="left:1115.8px;top:830.2px">私钥</div>
<div class="t" style="left:1114.7px;top:963.2px">预主密钥</div>
<div class="t" style="left:1115.9px;top:1093.2px">主密钥</div>
<div class="t" style="left:658.7px;top:327px">1.客服端hello,客户端随机<br>数，客户端支持的加密套件等</div>
<div class="t" style="left:670.2px;top:510.8px">2.服务器hello,发送服务器随<br>机数，证书信息等</div>
<div class="t" style="left:664.2px;top:684.2px">3.客户端发送公钥加密的<br>预主密钥</div>
<div class="t" style="left:764.9px;top:802.8px">4.服务器私<br>钥解密公钥<br>加密过的预<br>主密钥</div>
<div class="t" style="left:670.4px;top:1081.1px">握手完成，后面数据通过<br>主密钥加解密</div>
</body></html>
